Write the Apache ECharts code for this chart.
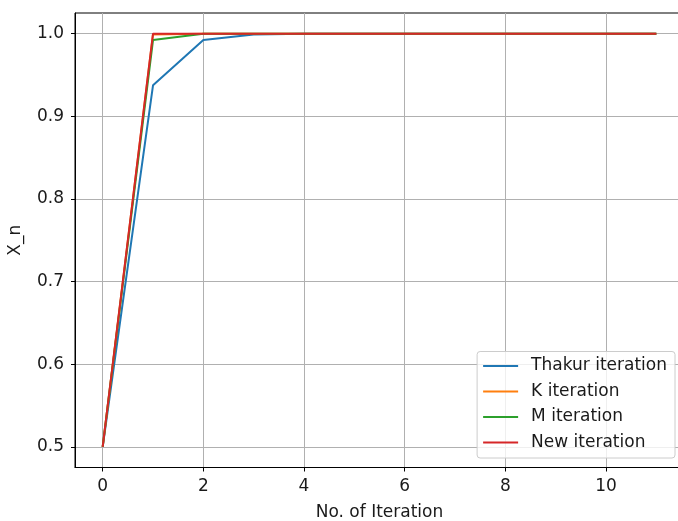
<!DOCTYPE html>
<html><head><meta charset="utf-8">
<script src="https://cdn.jsdelivr.net/npm/echarts@6/dist/echarts.min.js"></script>
<style>html,body{margin:0;padding:0;background:#fff}#c{width:678px;height:521px}</style>
</head><body><div id="c"></div>
<script>
const iterations = [0,1,2,3,4,5,6,7,8,9,10,11];
const thakur = [0.5,0.9375,0.9922,0.9990,0.9999,1,1,1,1,1,1,1];
const kIter  = [0.5,0.9990,1,1,1,1,1,1,1,1,1,1];
const mIter  = [0.5,0.9922,0.9999,1,1,1,1,1,1,1,1,1];
const newIter= [0.5,0.99995,1,1,1,1,1,1,1,1,1,1];
const xTicks = [0,2,4,6,8,10];
const yTicks = [0.5,0.6,0.7,0.8,0.9,1.0];
const seriesNames = ['Thakur iteration','K iteration','M iteration','New iteration'];
const colors = ['#1f77b4','#ff7f0e','#2ca02c','#d62728'];
const allData = [thakur,kIter,mIter,newIter];
const font = 'DejaVu Sans';
const fs = 17;
const chart = echarts.init(document.getElementById('c'));
chart.setOption({
  animation:false,
  backgroundColor:'#fff',
  grid:{left:75,top:13,right:-6,bottom:53.5,outerBoundsMode:'none',containLabel:false,show:true,borderColor:'#000',borderWidth:1,backgroundColor:'transparent'},
  xAxis:{type:'value',min:-0.55,max:11.55,
    name:'No. of Iteration',nameLocation:'middle',nameGap:37,
    nameTextStyle:{fontFamily:font,fontSize:fs,color:'#1a1a1a'},
    axisLine:{show:true,onZero:false,lineStyle:{color:'#000',width:1}},
    axisTick:{show:true,customValues:xTicks,length:4,lineStyle:{color:'#000'}},
    axisLabel:{customValues:xTicks,margin:11,fontFamily:font,fontSize:fs,color:'#1a1a1a'},
    splitLine:{show:true,lineStyle:{color:'#b0b0b0',width:1}}},
  yAxis:{type:'value',min:0.475,max:1.025,
    name:'X_n',nameLocation:'middle',nameGap:51,
    nameTextStyle:{fontFamily:font,fontSize:fs,color:'#1a1a1a'},
    axisLine:{show:true,onZero:false,lineStyle:{color:'#000',width:1}},
    axisTick:{show:true,customValues:yTicks,length:4,lineStyle:{color:'#000'}},
    axisLabel:{customValues:yTicks,margin:11,fontFamily:font,fontSize:fs,color:'#1a1a1a',formatter:v=>v.toFixed(1)},
    splitLine:{show:true,lineStyle:{color:'#b0b0b0',width:1}}},
  legend:{orient:'vertical',right:3,bottom:63,
    data:seriesNames.map(n=>({name:n,icon:'rect'})),
    itemWidth:35,itemHeight:2,itemGap:8.5,
    padding:[6,8,7,6],
    backgroundColor:'rgba(255,255,255,0.8)',borderColor:'#cccccc',borderWidth:1,borderRadius:3,
    textStyle:{fontFamily:font,fontSize:fs,color:'#1a1a1a',padding:[0,0,0,8]}},
  series: allData.map((d,i)=>({
    name:seriesNames[i],type:'line',data:iterations.map((x,j)=>[x,d[j]]),
    showSymbol:false,symbol:'none',color:colors[i],
    lineStyle:{width:2,color:colors[i]},z:2+i
  }))
});
</script></body></html>
